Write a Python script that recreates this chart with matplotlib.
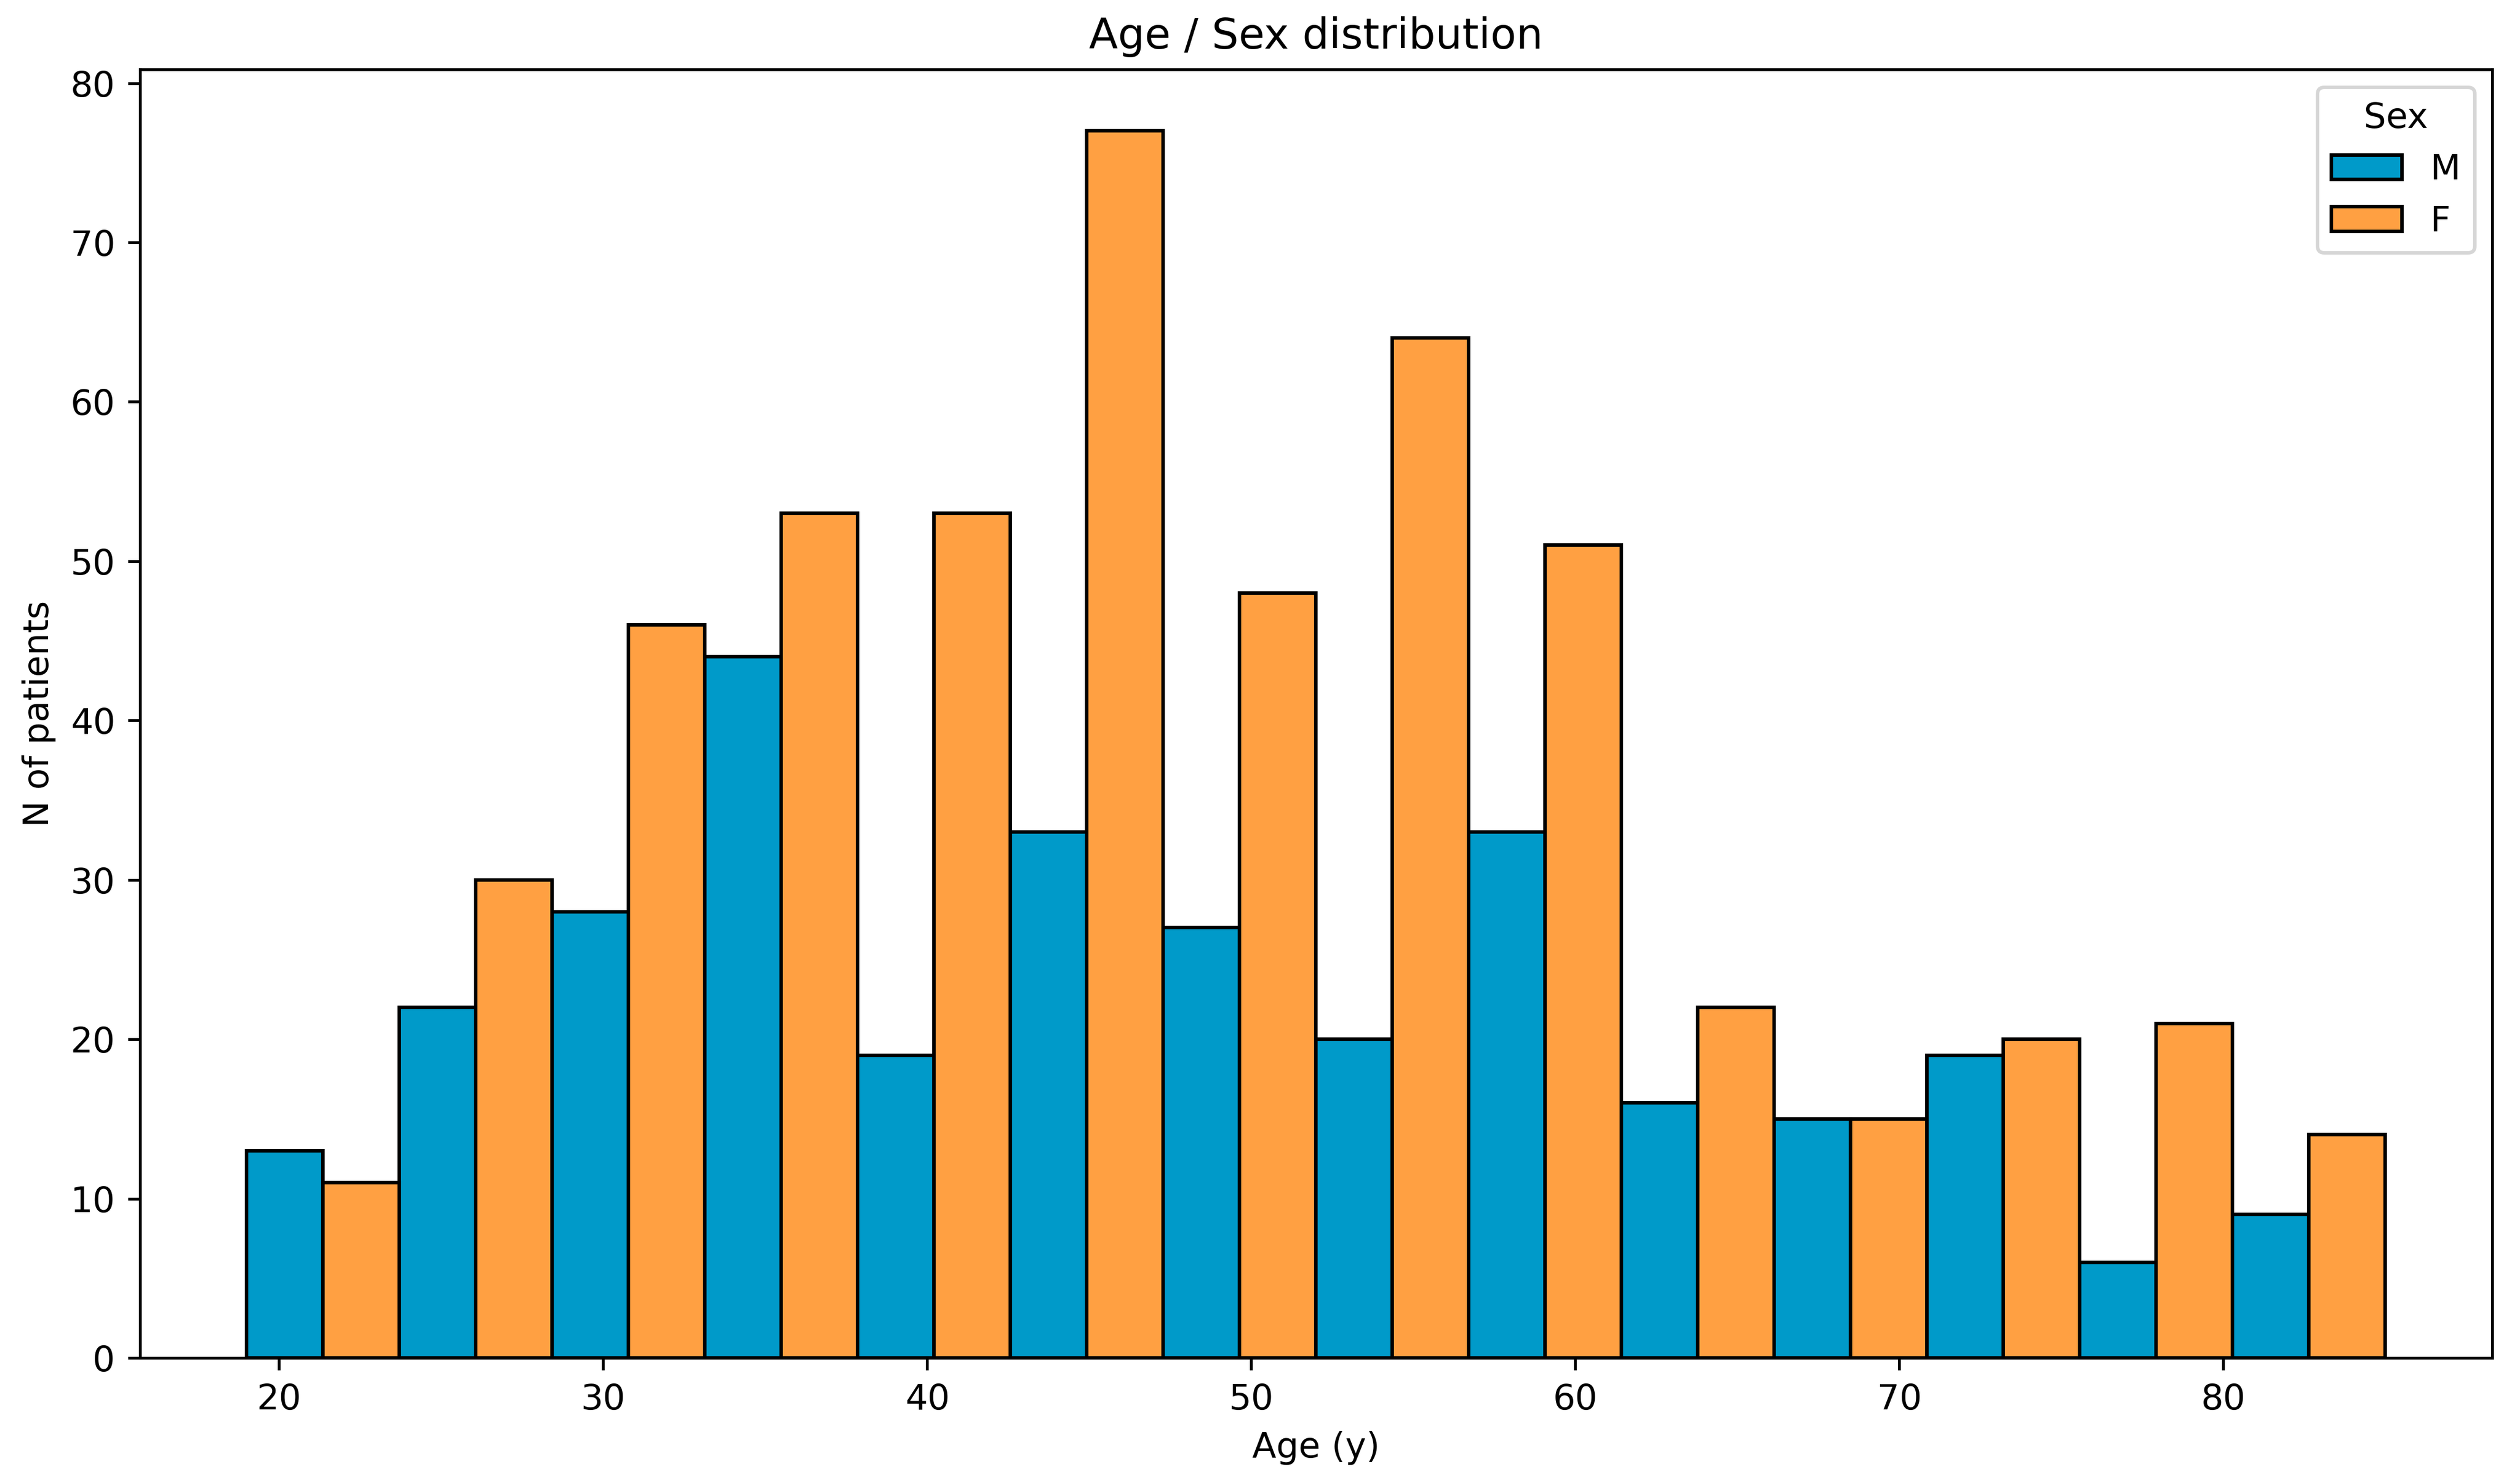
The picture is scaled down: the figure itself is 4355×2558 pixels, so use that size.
import numpy as np
import matplotlib
matplotlib.use("Agg")
import matplotlib.pyplot as plt

# histogram counts per age bin (14 bins between 19 and 85 y)
age_min = 19
age_max = 85
n_bins = 14
male_counts = [13, 22, 28, 44, 19, 33, 27, 20, 33, 16, 15, 19, 6, 9]
female_counts = [11, 30, 46, 53, 53, 77, 48, 64, 51, 22, 15, 20, 21, 14]
sex_labels = ["M", "F"]
sex_colors = ["#009ac9", "#ffa042"]

DPI = 438

edges = np.linspace(age_min, age_max, n_bins + 1)
bin_width = edges[1] - edges[0]
half = bin_width / 2

fig, ax = plt.subplots(figsize=(4355 / DPI, 2558 / DPI), dpi=DPI)

ax.bar(edges[:-1], male_counts, width=half, align="edge",
       color=sex_colors[0], edgecolor="black", linewidth=1.0,
       label=sex_labels[0])
ax.bar(edges[:-1] + half, female_counts, width=half, align="edge",
       color=sex_colors[1], edgecolor="black", linewidth=1.0,
       label=sex_labels[1])

ax.set_title("Age / Sex distribution", fontsize=12)
ax.set_xlabel("Age (y)")
ax.set_ylabel("N of patients")
ax.legend(title="Sex", loc="upper right")

fig.subplots_adjust(left=0.0555, right=0.989, top=0.953, bottom=0.0825)
fig.savefig("out.png", dpi=DPI)
